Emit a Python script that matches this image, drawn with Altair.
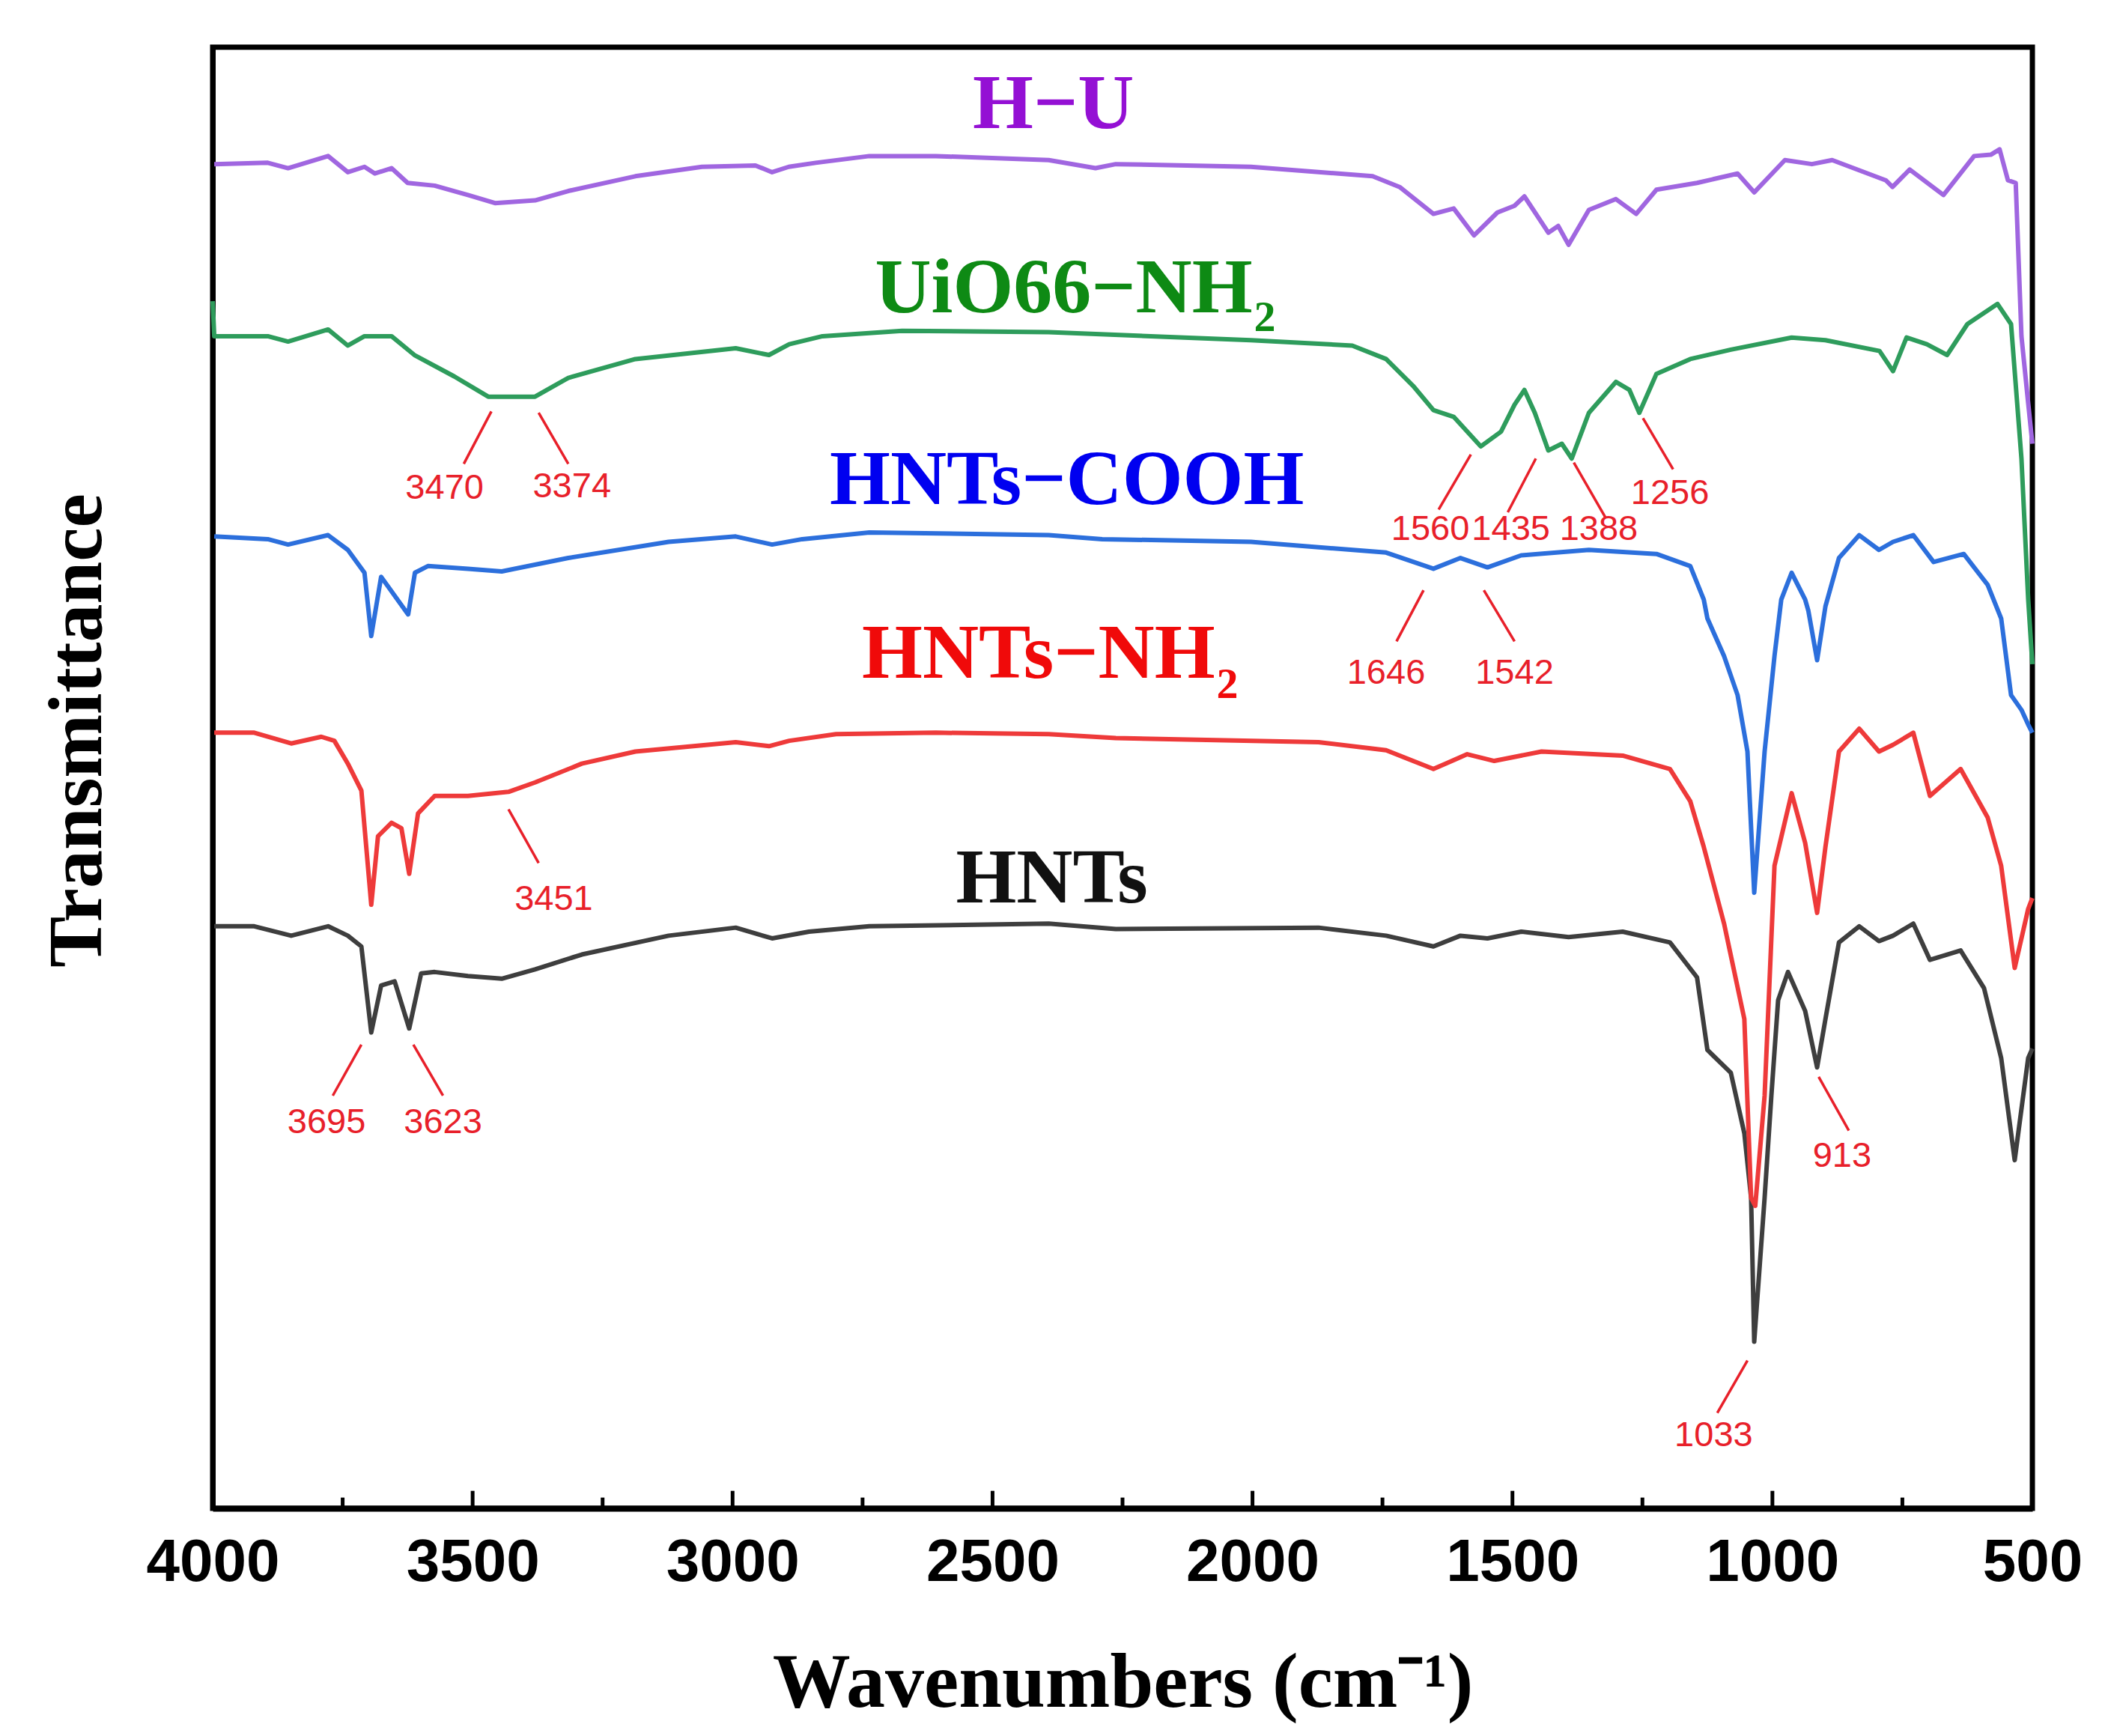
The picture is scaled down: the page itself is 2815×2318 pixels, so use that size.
import altair as alt
import pandas as pd

# ---------------- data ----------------
hu_wn = [3997,3894,3855,3778,3740,3708,3688,3656,3625,3573,3509,3457,3380,3316,3187,3059,2956,2924,2892,2840,
         2737,2609,2392,2302,2263,2003,1769,1717,1652,1613,1574,1529,1496,1477,1431,1412,1392,1353,1301,1262,
         1223,1145,1067,1035,976,924,885,782,769,736,671,612,580,563,547,532,521,508,500]
hu_t = [1000,1001,997,1006,994,998,993,997,986,984,977,971,973,980,991,998,999,994,998,1001,
        1006,1006,1003,997,1000,998,991,983,963,967,947,964,969,976,949,954,940,966,974,963,
        981,986,993,979,1003,1000,1003,988,983,996,977,1006,1007,1011,988,986,872,822,792]

uio_wn = [4000,3997,3894,3855,3778,3740,3708,3656,3612,3535,3470,3380,3316,3187,2994,2930,2891,2827,2674,2392,
          2003,1808,1743,1691,1652,1613,1561,1522,1496,1477,1457,1431,1405,1386,1353,1301,1275,1256,1223,1158,
          1080,963,898,794,768,742,703,664,625,567,541,521,508,500]
uio_t = [898,872,872,868,877,865,872,872,858,842,827,827,841,855,863,858,866,872,876,875,
         869,865,855,835,817,812,790,801,821,832,815,787,792,781,815,838,832,815,844,855,
         862,871,869,861,846,871,866,858,881,896,881,781,676,628]

cooh_wn = [3997,3894,3855,3778,3740,3708,3695,3676,3624,3611,3586,3509,3444,3316,3123,2994,2924,2866,2737,2392,
           2289,2003,1743,1652,1600,1548,1483,1353,1223,1158,1132,1125,1093,1067,1048,1035,1015,996,983,963,
           937,931,914,898,872,833,795,768,729,690,632,586,560,541,521,508,500]
cooh_t = [723,721,717,724,713,696,649,693,665,696,701,699,697,707,719,723,717,721,726,724,
          721,719,711,699,707,700,709,713,710,701,676,662,634,605,563,458,563,634,676,696,
          676,668,631,671,707,724,713,719,724,704,710,687,662,605,594,583,577]

nh2_wn = [3997,3920,3849,3791,3766,3740,3714,3695,3682,3656,3637,3622,3605,3573,3509,3431,3380,3290,3187,2994,
          2930,2891,2801,2609,2392,2263,1873,1743,1652,1587,1535,1444,1288,1197,1158,1132,1093,1054,1041,1033,
          1015,996,963,937,914,898,872,833,795,768,729,697,638,586,560,534,508,500]
nh2_t = [577,577,569,574,571,554,534,449,500,510,506,472,517,530,530,533,540,554,563,570,
         567,571,576,577,576,573,570,564,550,561,556,563,560,550,526,492,435,364,231,225,
         307,478,532,495,443,492,563,580,563,568,577,530,550,514,478,402,446,454]

hnts_wn = [3997,3920,3849,3778,3740,3714,3695,3676,3650,3622,3599,3573,3509,3444,3380,3290,3123,2994,2924,2853,
           2737,2392,2263,1873,1743,1652,1600,1548,1483,1392,1288,1197,1145,1125,1080,1054,1041,1035,1015,1002,
           989,970,937,914,898,872,833,795,768,729,697,638,593,560,534,508,500]
hnts_t = [433,433,426,433,426,418,354,389,392,357,398,399,396,394,401,412,426,432,424,429,
          433,435,431,432,426,418,426,424,429,425,429,421,395,341,324,279,231,124,231,307,
          378,399,370,328,364,421,433,422,426,435,408,415,387,335,259,335,342]

# series labels
lab_text = ['H\u2212U', 'UiO66\u2212NH', 'HNTs\u2212COOH', 'HNTs\u2212NH', 'HNTs']
lab_wn = [2383, 2000, 2357, 2072, 2386]
lab_t = [1027, 890, 747, 618, 451]
lab_align = ['center', 'right', 'center', 'right', 'center']
lab_color = ['#9410D4', '#0E8A14', '#0000F0', '#F00A0A', '#111111']
sub_text = ['2', '2']
sub_wn = [2000, 2072]
sub_t = [876, 603]
sub_color = ['#0E8A14', '#F00A0A']

# peak annotations
ann_text = ['3470', '3374', '1560', '1435', '1388', '1256', '1646', '1542', '3451', '3695', '3623', '913', '1033']
ann_wn = [3554, 3309, 1658, 1503, 1334, 1197, 1743, 1496, 3344, 3781, 3557, 866, 1113]
ann_t = [759, 760, 728, 728, 728, 755, 621, 621, 453, 287, 287, 262, 54]
ld_wn1 = [3464, 3373, 1580, 1455, 1382, 1249, 1671, 1555, 3431, 3714, 3614, 911, 1048]
ld_t1 = [816, 815, 784, 781, 778, 811, 683, 683, 520, 345, 345, 321, 110]
ld_wn2 = [3517, 3316, 1642, 1509, 1321, 1191, 1723, 1496, 3373, 3769, 3557, 853, 1106]
ld_t2 = [777, 777, 743, 741, 737, 773, 645, 645, 480, 307, 307, 281, 71]

x_labels = [4000, 3500, 3000, 2500, 2000, 1500, 1000, 500]
major_ticks = [3500, 3000, 2500, 2000, 1500, 1000]
minor_ticks = [3750, 3250, 2750, 2250, 1750, 1250, 750]

# ---------------- chart ----------------
W, H = 2430, 1951
xscale = alt.Scale(domain=[500, 4000], reverse=True, nice=False, zero=False)
yscale = alt.Scale(domain=[0, 1087], nice=False, zero=False)

xaxis = alt.Axis(
    title='Wavenumbers (cm\u207b\u00b9)', values=x_labels, format='d',
    ticks=False, tickSize=0, grid=False,
    domain=True, domainColor='black', domainWidth=8,
    labelFont='Liberation Sans', labelFontWeight='bold', labelFontSize=80, labelColor='black',
    labelPadding=33, labelFlush=False, labelOverlap=False,
    titleFont='Liberation Serif', titleFontWeight='bold', titleFontSize=104, titleColor='black',
    titleX=W / 2, titleY=264, titleBaseline='alphabetic', titleAlign='center')
yaxis = alt.Axis(
    title='Transmittance', labels=False, ticks=False, grid=False,
    domain=True, domainColor='black', domainWidth=7,
    titleFont='Liberation Serif', titleFontWeight='bold', titleFontSize=102, titleColor='black',
    titleAngle=270, titleX=-150, titleY=912, titleBaseline='alphabetic', titleAlign='center')


def X(f):
    return alt.X(f, scale=xscale, axis=xaxis)


def Y(f):
    return alt.Y(f, scale=yscale, axis=yaxis)


layers = []

# tick marks (inward)
tk = pd.DataFrame({'wn': major_ticks + minor_ticks,
                   'y0': [0] * (len(major_ticks) + len(minor_ticks)),
                   'y1': [13] * len(major_ticks) + [8] * len(minor_ticks)})
layers.append(alt.Chart(tk).mark_rule(color='black', strokeWidth=5).encode(
    x=X('wn:Q'), y=Y('y0:Q'), y2='y1:Q'))

series = [
    (hnts_wn, hnts_t, '#3E3E3E'),
    (nh2_wn, nh2_t, '#EE3A3A'),
    (cooh_wn, cooh_t, '#2C6FDC'),
    (uio_wn, uio_t, '#2E9C5C'),
    (hu_wn, hu_t, '#A066E0'),
]
for wn, t, col in series:
    df = pd.DataFrame({'wn': wn, 't': t, 'i': list(range(len(wn)))})
    layers.append(alt.Chart(df).mark_line(color=col, strokeWidth=6, strokeJoin='round').encode(
        x=X('wn:Q'), y=Y('t:Q'), order='i:Q'))

# leader lines
ld = pd.DataFrame({'a': ld_wn1, 'b': ld_wn2, 'c': ld_t1, 'd': ld_t2})
layers.append(alt.Chart(ld).mark_rule(color='#E8202A', strokeWidth=3.5).encode(
    x=X('a:Q'), x2='b:Q', y=Y('c:Q'), y2='d:Q'))

# annotation numbers
an = pd.DataFrame({'wn': ann_wn, 't': ann_t, 'txt': ann_text})
layers.append(alt.Chart(an).mark_text(
    color='#E8202A', font='Liberation Sans', fontSize=47,
    align='center', baseline='middle').encode(x=X('wn:Q'), y=Y('t:Q'), text='txt:N'))

# series labels
for al in ['center', 'right']:
    idx = [k for k in range(len(lab_text)) if lab_align[k] == al]
    lb = pd.DataFrame({'wn': [lab_wn[k] for k in idx], 't': [lab_t[k] for k in idx],
                       'txt': [lab_text[k] for k in idx], 'col': [lab_color[k] for k in idx]})
    layers.append(alt.Chart(lb).mark_text(
        font='Liberation Serif', fontWeight='bold', fontSize=104, align=al, baseline='alphabetic').encode(
        x=X('wn:Q'), y=Y('t:Q'), text='txt:N', color=alt.Color('col:N', scale=None)))

sb = pd.DataFrame({'wn': sub_wn, 't': sub_t, 'txt': sub_text, 'col': sub_color})
layers.append(alt.Chart(sb).mark_text(
    font='Liberation Serif', fontWeight='bold', fontSize=58, align='left', baseline='alphabetic', dx=2).encode(
    x=X('wn:Q'), y=Y('t:Q'), text='txt:N', color=alt.Color('col:N', scale=None)))

chart = alt.layer(*layers).properties(
    width=W, height=H,
    padding={'left': 276, 'top': 55, 'right': 93, 'bottom': 296},
    autosize=alt.AutoSizeParams(type='none'),
    background='white',
).configure_view(stroke='black', strokeWidth=7)

chart.save('out.html', embed_options={'renderer': 'svg', 'actions': False})
